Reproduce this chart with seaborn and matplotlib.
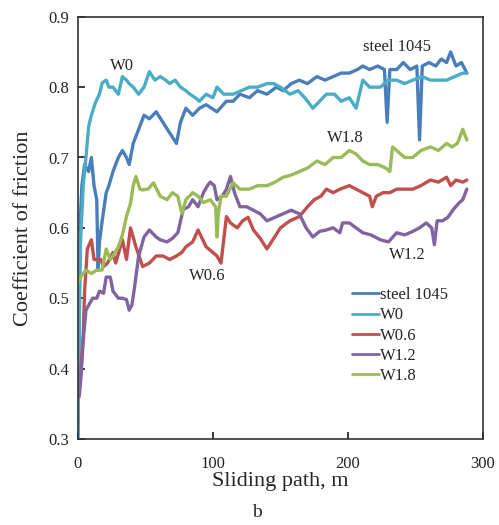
import pandas as pd
import matplotlib.pyplot as plt
import seaborn as sns

# values
steel_x = [0, 1, 2, 3, 5, 8, 10, 12, 14, 15, 16, 18, 21, 23, 26, 30, 33, 36, 38, 41, 45, 49, 53, 58, 63, 68, 73, 76,
           80, 85, 90, 95, 103, 110, 115, 120, 127, 133, 140, 147, 152, 158, 164, 170, 177, 183, 189, 195, 201, 207,
           211, 216, 222, 227, 229, 231, 236, 241, 246, 251, 253, 255, 260, 265, 269, 273, 276, 280, 284, 288]
steel_y = [0.30, 0.50, 0.62, 0.66, 0.69, 0.68, 0.70, 0.66, 0.64, 0.54, 0.58, 0.61, 0.65, 0.66, 0.68, 0.70, 0.71, 0.70,
           0.69, 0.72, 0.74, 0.76, 0.755, 0.765, 0.75, 0.735, 0.72, 0.75, 0.77, 0.76, 0.77, 0.775, 0.765, 0.78, 0.78,
           0.79, 0.785, 0.795, 0.79, 0.80, 0.795, 0.805, 0.81, 0.805, 0.815, 0.81, 0.815, 0.82, 0.82, 0.825, 0.83,
           0.825, 0.83, 0.825, 0.75, 0.825, 0.825, 0.835, 0.825, 0.83, 0.725, 0.83, 0.835, 0.83, 0.84, 0.835, 0.85,
           0.83, 0.835, 0.82]

w0_x = [0, 1, 2, 4, 6, 8, 10, 13, 16, 18, 21, 23, 26, 30, 33, 36, 38, 41, 45, 49, 53, 57, 61, 65, 68, 72, 76, 80, 83,
        87, 90, 95, 100, 103, 108, 115, 121, 127, 133, 140, 145, 150, 157, 163, 168, 174, 179, 184, 190, 195, 201,
        206, 211, 216, 224, 230, 236, 242, 248, 255, 261, 267, 273, 279, 285, 288]
w0_y = [0.30, 0.45, 0.58, 0.66, 0.70, 0.744, 0.76, 0.778, 0.79, 0.806, 0.81, 0.80, 0.80, 0.79, 0.815, 0.81, 0.805,
        0.80, 0.79, 0.80, 0.822, 0.81, 0.815, 0.81, 0.805, 0.81, 0.80, 0.795, 0.79, 0.785, 0.78, 0.79, 0.785, 0.80,
        0.79, 0.79, 0.795, 0.80, 0.80, 0.805, 0.805, 0.80, 0.79, 0.795, 0.785, 0.77, 0.78, 0.79, 0.79, 0.78, 0.785,
        0.77, 0.81, 0.80, 0.80, 0.81, 0.81, 0.805, 0.81, 0.815, 0.81, 0.81, 0.81, 0.815, 0.82, 0.82]

w06_x = [0, 2, 4, 5, 7, 10, 12, 15, 17, 19, 22, 26, 28, 33, 36, 39, 43, 48, 53, 58, 63, 68, 73, 77, 80, 85, 89, 95,
         100, 103, 106, 110, 113, 118, 122, 126, 130, 135, 140, 145, 150, 157, 164, 170, 175, 180, 184, 189, 194,
         201, 206, 211, 216, 218, 221, 226, 231, 236, 242, 248, 254, 261, 267, 273, 276, 280, 285, 288]
w06_y = [0.39, 0.39, 0.45, 0.51, 0.57, 0.583, 0.555, 0.555, 0.555, 0.545, 0.55, 0.565, 0.55, 0.583, 0.555, 0.60,
         0.573, 0.545, 0.55, 0.56, 0.56, 0.555, 0.56, 0.565, 0.573, 0.58, 0.597, 0.573, 0.565, 0.56, 0.55, 0.616,
         0.607, 0.60, 0.61, 0.615, 0.597, 0.585, 0.57, 0.585, 0.60, 0.61, 0.616, 0.63, 0.64, 0.645, 0.655, 0.65,
         0.655, 0.66, 0.655, 0.65, 0.645, 0.63, 0.645, 0.65, 0.65, 0.655, 0.655, 0.655, 0.66, 0.668, 0.665, 0.672,
         0.66, 0.668, 0.665, 0.668]

w12_x = [0, 1, 2, 4, 6, 8, 11, 14, 16, 19, 21, 24, 26, 30, 33, 36, 38, 40, 42, 45, 49, 53, 58, 61, 66, 70, 74, 78,
         82, 85, 89, 93, 96, 98, 101, 103, 107, 110, 113, 116, 120, 125, 130, 135, 140, 146, 152, 158, 164, 169,
         174, 179, 184, 189, 194, 196, 201, 206, 211, 217, 224, 230, 236, 242, 248, 253, 258, 262, 264, 266, 270,
         274, 278, 282, 285, 288]
w12_y = [0.36, 0.36, 0.38, 0.44, 0.483, 0.49, 0.50, 0.50, 0.51, 0.507, 0.53, 0.53, 0.51, 0.50, 0.50, 0.498, 0.483,
         0.49, 0.516, 0.56, 0.587, 0.597, 0.587, 0.583, 0.58, 0.585, 0.593, 0.626, 0.63, 0.64, 0.63, 0.65, 0.66,
         0.665, 0.66, 0.64, 0.645, 0.655, 0.673, 0.65, 0.63, 0.63, 0.625, 0.62, 0.61, 0.615, 0.62, 0.625, 0.62,
         0.60, 0.587, 0.595, 0.597, 0.60, 0.593, 0.607, 0.607, 0.60, 0.593, 0.59, 0.583, 0.58, 0.593, 0.59, 0.595,
         0.60, 0.607, 0.60, 0.576, 0.61, 0.61, 0.615, 0.626, 0.635, 0.64, 0.655]

w18_x = [0, 2, 6, 10, 14, 18, 21, 24, 26, 30, 33, 36, 39, 41, 43, 46, 48, 52, 56, 61, 66, 70, 74, 77, 80, 85, 89,
         93, 98, 102, 103, 104, 106, 110, 115, 120, 127, 133, 140, 146, 152, 158, 164, 170, 177, 183, 189, 195, 201,
         206, 211, 216, 222, 228, 231, 233, 236, 242, 248, 254, 261, 267, 273, 277, 281, 285, 288]
w18_y = [0.52, 0.53, 0.54, 0.535, 0.54, 0.54, 0.57, 0.555, 0.56, 0.573, 0.59, 0.616, 0.635, 0.66, 0.673, 0.655,
         0.654, 0.655, 0.664, 0.645, 0.64, 0.65, 0.645, 0.62, 0.64, 0.65, 0.645, 0.636, 0.64, 0.63, 0.587, 0.62,
         0.645, 0.645, 0.664, 0.655, 0.655, 0.66, 0.66, 0.665, 0.672, 0.675, 0.68, 0.685, 0.695, 0.69, 0.70, 0.70,
         0.71, 0.705, 0.695, 0.69, 0.69, 0.685, 0.68, 0.715, 0.71, 0.70, 0.70, 0.71, 0.715, 0.71, 0.72, 0.715, 0.72,
         0.74, 0.725]

names = ['steel 1045', 'W0', 'W0.6', 'W1.2', 'W1.8']
colors = ['#4A7EBB', '#4BACC6', '#C0504D', '#8064A2', '#9BBB59']
series = [(steel_x, steel_y), (w0_x, w0_y), (w06_x, w06_y), (w12_x, w12_y), (w18_x, w18_y)]

frames = []
for name, (xs, ys) in zip(names, series):
    frames.append(pd.DataFrame({'path': xs, 'cof': ys, 'sample': name}))
df = pd.concat(frames, ignore_index=True)

sns.set_theme(style='ticks')
plt.rcParams['font.family'] = ['Liberation Serif', 'DejaVu Serif']

fig = plt.figure(figsize=(4.99, 5.25), dpi=100)
ax = fig.add_axes([0.156, 0.164, 0.812, 0.804])

sns.lineplot(data=df, x='path', y='cof', hue='sample', hue_order=names,
             palette=dict(zip(names, colors)), errorbar=None, linewidth=2.4, ax=ax)

ax.set_xlim(0, 300)
ax.set_ylim(0.3, 0.9)
ax.set_xticks([0, 100, 200, 300])
ax.set_yticks([0.3, 0.4, 0.5, 0.6, 0.7, 0.8, 0.9])
ax.set_yticklabels(['0.3', '0.4', '0.5', '0.6', '0.7', '0.8', '0.9'])
ax.tick_params(direction='in', labelsize=12, length=5, colors='#222222')
ax.tick_params(axis='x', pad=12)
ax.tick_params(axis='y', pad=6)
for s in ax.spines.values():
    s.set_visible(True)
    s.set_color('#333333')
    s.set_linewidth(1.2)

ax.set_xlabel('Sliding path, m', fontsize=16, labelpad=0)
ax.set_ylabel('Coefficient of friction', fontsize=16, labelpad=11)

# curve labels
ax.text(33, 0.83, 'W0', fontsize=12, ha='center', va='center')
ax.text(236, 0.857, 'steel 1045', fontsize=12, ha='center', va='center')
ax.text(198, 0.728, 'W1.8', fontsize=12, ha='center', va='center')
ax.text(96, 0.532, 'W0.6', fontsize=12, ha='center', va='center')
ax.text(244, 0.562, 'W1.2', fontsize=12, ha='center', va='center')

handles, labels = ax.get_legend_handles_labels()
for h in handles:
    h.set_linewidth(2.0)
ax.legend(handles, labels, loc='upper left', bbox_to_anchor=(0.66, 0.375), frameon=False,
          fontsize=12, handlelength=1.6, handletextpad=0.1, labelspacing=0.25, borderaxespad=0)

fig.text(0.515, 0.008, 'b', fontsize=14, ha='center', va='bottom')

fig.savefig('out.png', dpi=100)
